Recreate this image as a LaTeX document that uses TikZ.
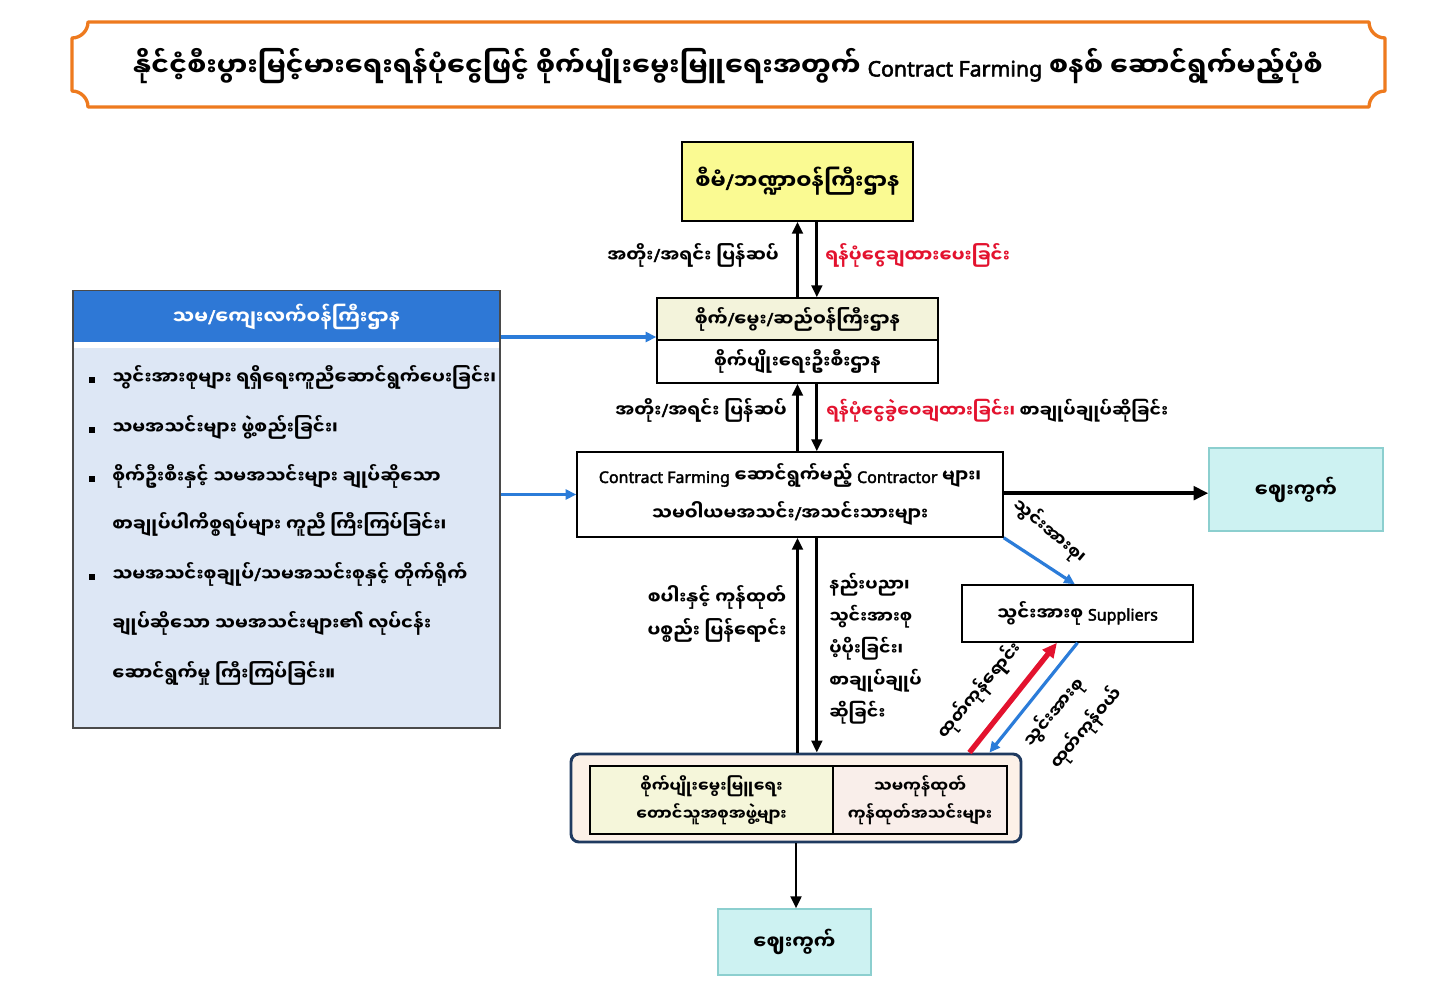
\documentclass[tikz,border=0pt]{standalone}
\usepackage{fontspec}
\setmainfont{Noto Sans Myanmar UI}[Script=Myanmar]
\newfontfamily\latB{Noto Sans}[FakeBold=2.5]
\usetikzlibrary{arrows.meta}
\definecolor{orgB}{HTML}{EE7A1E}
\definecolor{yelA}{HTML}{FAFA92}
\definecolor{creamA}{HTML}{F3F3DB}
\definecolor{blueH}{HTML}{2E78D6}
\definecolor{blueL}{HTML}{DDE7F5}
\definecolor{grayD}{HTML}{4A4A4A}
\definecolor{cyanF}{HTML}{CDF2F2}
\definecolor{cyanD}{HTML}{8CCFCF}
\definecolor{redT}{HTML}{E3122E}
\definecolor{arrBl}{HTML}{2B7CD9}
\definecolor{navyB}{HTML}{1F3A60}
\definecolor{peachA}{HTML}{FCF1E8}
\definecolor{yelB}{HTML}{F5F6DA}
\definecolor{peachB}{HTML}{F9EEEA}
\newcommand\fsl{{\latB/}}
\newcommand\latb[1]{{\latB\fontsize{12}{15}\selectfont #1}}
\newcommand\latT[1]{{\latB\fontsize{16}{19}\selectfont #1}}
\newcommand\fszA{\fontsize{13.5}{17}\selectfont\bfseries}
\newcommand\fszC{\fontsize{12}{15}\selectfont\bfseries}
\newcommand\fszB{\fontsize{16}{19}\selectfont\bfseries}
\newcommand\fszM{\fontsize{14.5}{18}\selectfont\bfseries}
\newcommand\fszT{\fontsize{20}{24}\selectfont\bfseries}
\tikzset{
  box/.style={draw=black, line width=1.1pt, inner sep=0pt, align=center, font=\fszA},
  lbl/.style={inner sep=0pt, font=\fszA, text height=0.85em, text depth=0.25em},
  arr/.style={line width=2.2pt, -{Triangle[length=9pt,width=8pt]}},
  arrK/.style={line width=3pt, -{Triangle[length=11pt,width=10pt]}},
  arrB/.style={draw=arrBl, line width=2.4pt, -{Triangle[length=8pt,width=7.5pt]}},
  arrR/.style={draw=redT, line width=4pt, -{Triangle[length=11pt,width=10pt]}},
  mkt/.style={box, draw=cyanD, line width=1pt, fill=cyanF, font=\fszM},
  bul/.style={fill=black, inner sep=0pt, minimum size=4.5pt},
}
\begin{document}
\begin{tikzpicture}[x=0.75pt,y=-0.75pt]
\useasboundingbox[fill=white] (0,0) rectangle (1455,1007);
% title banner
\draw[orgB, line width=2.5pt, fill=white, line join=round]
  (88,22) -- (1369,22) .. controls (1369,30.8) and (1376.2,38) .. (1385,38)
  -- (1385,91) .. controls (1376.2,91) and (1369,98.2) .. (1369,107)
  -- (88,107) .. controls (88,98.2) and (80.8,91) .. (72,91)
  -- (72,38) .. controls (80.8,38) and (88,30.8) .. (88,22) -- cycle;
\node[font=\fszT, inner sep=0pt] (title) at (728,66) {နိုင်ငံ့စီးပွားမြင့်မားရေးရန်ပုံငွေဖြင့် စိုက်ပျိုးမွေးမြူရေးအတွက် \latT{Contract Farming} စနစ် ဆောင်ရွက်မည့်ပုံစံ};

% top ministry
\node[box, fill=yelA, minimum width=173.25pt, minimum height=59.25pt, font=\fszB] (mof) at (797.5,181.5) {စီမံ\fsl ဘဏ္ဍာဝန်ကြီးဌာန};
% middle ministry
\node[box, fill=creamA, minimum width=210.75pt, minimum height=31.5pt] (midtop) at (797.5,319) {စိုက်\fsl မွေး\fsl ဆည်ဝန်ကြီးဌာန};
\node[box, fill=white, minimum width=210.75pt, minimum height=32.25pt] (midbot) at (797.5,361.5) {စိုက်ပျိုးရေးဦးစီးဌာန};

\draw[arr] (midtop.north) -- (midtop.north |- mof.south);
\coordinate (dn1) at ([xshift=14.5pt]mof.south);
\draw[arr] (dn1) -- (dn1 |- midtop.north);
\node[lbl, anchor=east] (l1) at (779,258) {အတိုး\fsl အရင်း ပြန်ဆပ်};
\node[lbl, anchor=west, text=redT] (r1) at (825,258) {ရန်ပုံငွေချထားပေးခြင်း};

% contract box
\node[box, fill=white, minimum width=319.5pt, minimum height=63.75pt] (cf) at (790,494.5) {\latb{Contract Farming} ဆောင်ရွက်မည့် \latb{Contractor} များ၊\\[9pt]သမဝါယမအသင်း\fsl အသင်းသားများ};

\draw[arr] (midbot.south |- cf.north) -- (midbot.south);
\coordinate (dn2) at ([xshift=14.5pt]midbot.south);
\draw[arr] (dn2) -- (dn2 |- cf.north);
\node[lbl, anchor=east] (l2) at (787,413) {အတိုး\fsl အရင်း ပြန်ဆပ်};
\node[lbl, anchor=west, font=\fontsize{13}{16}\selectfont\bfseries] (r2) at (826,413) {{\color{redT}ရန်ပုံငွေခွဲဝေချထားခြင်း၊} စာချုပ်ချုပ်ဆိုခြင်း};

% left panel
\node[draw=grayD, line width=1.1pt, fill=blueL, minimum width=320.25pt, minimum height=327.75pt, inner sep=0pt] (panel) at (286.5,509.5) {};
\node[fill=blueH, minimum width=319pt, minimum height=38pt, inner sep=0pt, anchor=north, text=white, font=\fontsize{14.5}{18}\selectfont\bfseries] (hdr) at ([yshift=-0.55pt]panel.north) {သမ\fsl ကျေးလက်ဝန်ကြီးဌာန};
\node[fill=white, minimum width=319pt, minimum height=4.5pt, inner sep=0pt, anchor=north] (gap) at (hdr.south) {};
\node[bul] (b1) at (92,380) {};
\node[bul] (b2) at (92,430) {};
\node[bul] (b3) at (92,479) {};
\node[bul] (b4) at (92,577) {};
\node[lbl, anchor=west] (t1) at (112,380) {သွင်းအားစုများ ရရှိရေးကူညီဆောင်ရွက်ပေးခြင်း၊};
\node[lbl, anchor=west] (t2) at (112,430) {သမအသင်းများ ဖွဲ့စည်းခြင်း၊};
\node[lbl, anchor=west] (t3) at (112,479) {စိုက်ဦးစီးနှင့် သမအသင်းများ ချုပ်ဆိုသော};
\node[lbl, anchor=west] (t4) at (112,527) {စာချုပ်ပါကိစ္စရပ်များ ကူညီ ကြီးကြပ်ခြင်း၊};
\node[lbl, anchor=west] (t5) at (112,577) {သမအသင်းစုချုပ်\fsl သမအသင်းစုနှင့် တိုက်ရိုက်};
\node[lbl, anchor=west] (t6) at (112,626) {ချုပ်ဆိုသော သမအသင်းများ၏ လုပ်ငန်း};
\node[lbl, anchor=west] (t7) at (112,676) {ဆောင်ရွက်မှု ကြီးကြပ်ခြင်း။};

\draw[arrB] ([yshift=-13.5pt]panel.east |- midtop.west) -- ([yshift=-13.5pt]midtop.west);
\draw[arrB] (panel.east |- cf.west) -- (cf.west);

% right market
\node[mkt, minimum width=130.5pt, minimum height=62.25pt] (mk1) at (1296,489.5) {ဈေးကွက်};
\draw[arrK] ([yshift=1pt]cf.east) -- ([yshift=1pt]cf.east -| mk1.west);

% suppliers
\node[box, fill=white, minimum width=173.25pt, minimum height=42.75pt] (supp) at (1077.5,613.5) {သွင်းအားစု \latb{Suppliers}};
\draw[arrB] (cf.south east) -- ([xshift=-2pt]supp.north);
\node[lbl, rotate=-40, font=\fontsize{13}{16}\selectfont\bfseries] (ls) at (1048,533) {သွင်းအားစု၊};

% bottom box
\node[draw=navyB, line width=2.2pt, fill=peachA, rounded corners=6pt, minimum width=337.5pt, minimum height=66pt, inner sep=0pt] (bot) at (796,798) {};
\node[box, fill=yelB, minimum width=182.25pt, minimum height=51pt, font=\fszC] (botL) at (711.5,800) {စိုက်ပျိုးမွေးမြူရေး\\[4pt]တောင်သူအစုအဖွဲ့များ};
\node[box, fill=peachB, minimum width=130.5pt, minimum height=51pt, font=\fszC] (botR) at (920,800) {သမကုန်ထုတ်\\[4pt]ကုန်ထုတ်အသင်းများ};

\coordinate (u3) at (cf.south -| midbot.south);
\draw[arr] (u3 |- bot.north) -- (u3);
\coordinate (d3) at ([xshift=14.5pt]u3);
\draw[arr] (d3) -- (d3 |- bot.north);
\node[align=center, font=\fontsize{13.5}{24.75}\selectfont\bfseries, inner sep=0pt] (l3) at (717,614) {စပါးနှင့် ကုန်ထုတ်\\ပစ္စည်း ပြန်ရောင်း};
\node[align=left, font=\fontsize{13}{24}\selectfont\bfseries, inner sep=0pt, anchor=west] (r3) at (829,649) {နည်းပညာ၊\\သွင်းအားစု\\ပံ့ပိုးခြင်း၊\\စာချုပ်ချုပ်\\ဆိုခြင်း};

% supplier arrows
\draw[arrR] ([xshift=-39.75pt]bot.north east) -- ([xshift=-15.4pt]supp.south);
\draw[arrB] (supp.south) -- ([xshift=-24.75pt]bot.north east);
\node[lbl, rotate=50, font=\fontsize{13}{16}\selectfont\bfseries] (lr) at (982,692) {ထုတ်ကုန်ရောင်း};
\node[align=left, font=\fontsize{13}{26}\selectfont\bfseries, inner sep=0pt, rotate=50] (lb) at (1073,717) {သွင်းအားစု\\ထုတ်ကုန်ဝယ်};

% bottom market
\node[mkt, minimum width=114.75pt, minimum height=49.5pt] (mk2) at (794.5,942) {ဈေးကွက်};
\draw[arr] (bot.south) -- (bot.south |- mk2.north);
\end{tikzpicture}
\end{document}
